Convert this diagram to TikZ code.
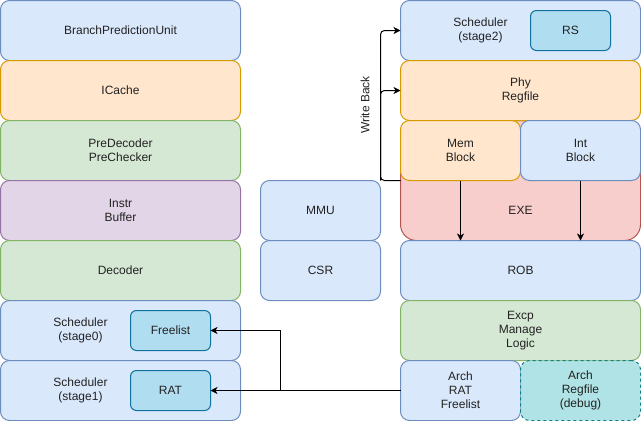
\documentclass[tikz,border=0pt]{standalone}
\usepackage{fontspec}
\setmainfont{Liberation Sans}
\usetikzlibrary{arrows.meta}
\definecolor{bluef}{HTML}{DAE8FC}\definecolor{blued}{HTML}{6C8EBF}
\definecolor{orangef}{HTML}{FFE6CC}\definecolor{oranged}{HTML}{D79B00}
\definecolor{greenf}{HTML}{D5E8D4}\definecolor{greend}{HTML}{82B366}
\definecolor{purplef}{HTML}{E1D5E7}\definecolor{purpled}{HTML}{9673A6}
\definecolor{redf}{HTML}{F8CECC}\definecolor{redd}{HTML}{B85450}
\definecolor{innerf}{HTML}{B1DDF0}\definecolor{innerd}{HTML}{10739E}
\definecolor{tealf}{HTML}{B0E3E6}\definecolor{teald}{HTML}{0E8088}
\definecolor{txt}{HTML}{222222}
\tikzset{
  blk/.style={draw, rounded corners=9pt, line width=1pt, align=center, inner sep=0pt, outer sep=0pt,
    font=\fontsize{12}{14}\selectfont, text=txt, minimum width=240pt, minimum height=60pt},
  half/.style={blk, minimum width=120pt},
  inner/.style={blk, rounded corners=6pt, minimum width=80pt, minimum height=40pt, fill=innerf, draw=innerd},
  bluebox/.style={fill=bluef, draw=blued},
  orangebox/.style={fill=orangef, draw=oranged},
  greenbox/.style={fill=greenf, draw=greend},
  purplebox/.style={fill=purplef, draw=purpled},
  redbox/.style={fill=redf, draw=redd},
  tealbox/.style={fill=tealf, draw=teald, dashed},
  lbl/.style={align=center, inner sep=0pt, font=\fontsize{12}{14}\selectfont, text=txt},
  arr/.style={line width=1pt, -{Stealth[length=7pt,width=7pt,inset=2pt]}},
}
\begin{document}
\begin{tikzpicture}[x=1pt,y=-1pt]
\useasboundingbox (0,0) rectangle (641,421);
% left column
\node[blk, bluebox] (bpu) at (120.5,30.5) {BranchPredictionUnit};
\node[blk, orangebox] (icache) at (120.5,90.5) {ICache};
\node[blk, greenbox] (predec) at (120.5,150.5) {PreDecoder\\PreChecker};
\node[blk, purplebox] (ibuf) at (120.5,210.5) {Instr\\Buffer};
\node[blk, greenbox] (dec) at (120.5,270.5) {Decoder};
\node[blk, bluebox] (sch0) at (120.5,330.5) {};
\node[lbl] (sch0t) at (80.5,330.5) {Scheduler\\(stage0)};
\node[inner] (freelist) at (170.5,330.5) {Freelist};
\node[blk, bluebox] (sch1) at (120.5,390.5) {};
\node[lbl] (sch1t) at (80.5,390.5) {Scheduler\\(stage1)};
\node[inner] (rat) at (170.5,390.5) {RAT};
% middle
\node[half, bluebox] (mmu) at (320.5,210.5) {MMU};
\node[half, bluebox] (csr) at (320.5,270.5) {CSR};
% right column
\node[blk, redbox, minimum height=120pt, rounded corners=16pt] (exe) at (520.5,180.5) {};
\node[lbl] (exet) at (520.5,210.5) {EXE};
\node[blk, bluebox] (sch2) at (520.5,30.5) {};
\node[lbl] (sch2t) at (480.5,30.5) {Scheduler\\(stage2)};
\node[inner] (rs) at (570.5,30.5) {RS};
\node[blk, orangebox] (phy) at (520.5,90.5) {Phy\\Regfile};
\node[half, orangebox] (mem) at (460.5,150.5) {Mem\\Block};
\node[half, bluebox] (int) at (580.5,150.5) {Int\\Block};
\node[blk, bluebox] (rob) at (520.5,270.5) {ROB};
\node[blk, greenbox] (excp) at (520.5,330.5) {Excp\\Manage\\Logic};
\node[half, bluebox] (arch) at (460.5,390.5) {Arch\\RAT\\Freelist};
\node[half, tealbox] (archreg) at (580.5,390.5) {Arch\\Regfile\\(debug)};
% connectors
\coordinate (j) at (280.5,390.5);
\draw[arr] (arch.west) -- (j) -- (rat.east);
\draw[arr] (j) |- (freelist.east);
\coordinate (wb) at (380.5,180.5);
\draw[arr, rounded corners=4pt] (mem.south west) -- (wb) |- (phy.west);
\draw[arr, rounded corners=4pt] (wb) |- (sch2.west);
\node[lbl, rotate=90] (wbt) at (365,105) {Write Back};
\draw[arr] (mem.south) -- (mem.south |- rob.north);
\draw[arr] (int.south) -- (int.south |- rob.north);
\end{tikzpicture}
\end{document}
